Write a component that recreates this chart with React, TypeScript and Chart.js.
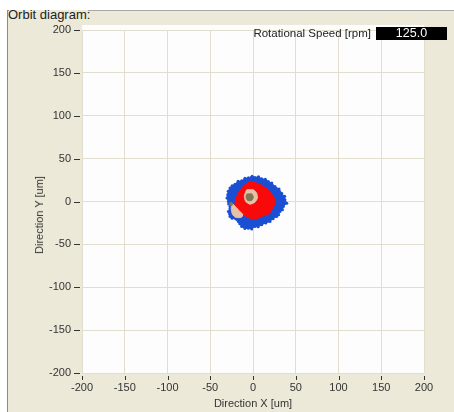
import React, { useEffect, useRef } from "react";
import { Chart, registerables } from "chart.js";

Chart.register(...registerables);

// Axis ticks (um)
const xTickValues = [-200, -150, -100, -50, 0, 50, 100, 150, 200];
const yTickValues = [-200, -150, -100, -50, 0, 50, 100, 150, 200];

const blueOrbit: [number, number][] = [
  [-5.5, 27.5], [-1.0, 29.5], [2.3, 28], [6.5, 29], [10.1, 26.5], [14.5, 26], [17.9, 23.3],
  [22.0, 21.5], [25.7, 17.5], [30.5, 14.5], [33.5, 9.7], [37.0, 6.0], [37.4, 1.9], [39.5, -2.0],
  [35.5, -5.8], [34.5, -9.5], [31.6, -11.7], [30.0, -15.5], [27.7, -17.5], [23.5, -20.0],
  [19.9, -23.3], [15.0, -25.0], [10.1, -27.2], [6.0, -29.5], [2.3, -29.2], [-1.5, -32.0],
  [-5.5, -31.1], [-9.5, -31.5], [-13.3, -29.2], [-15.5, -26.0], [-17.2, -23.3], [-19.0, -21.0],
  [-21.1, -19.5], [-24.5, -19.5], [-26.9, -17.5], [-27.5, -14.5], [-28.8, -11.7], [-27.0, -8.5],
  [-26.9, -5.8], [-28.5, -3.0], [-28.8, 0], [-30.5, 4.0], [-29.6, 7.8], [-29.0, 12.0],
  [-26.9, 15.6], [-24.5, 18.5], [-21.1, 20.2], [-17.5, 23.5], [-13.3, 24.1], [-9.5, 27.0],
];
const redOrbit: [number, number][] = [
  [-9.0, 20.0], [-3.0, 23.5], [3.0, 22.0], [9.0, 19.5], [16.5, 14.5], [22.0, 8.5],
  [26.0, 2.5], [25.0, -3.9], [22.5, -9.0], [18.5, -14.5], [12.0, -16.5], [4.3, -20.0],
  [-3.5, -19.5], [-10.5, -16.0], [-17.5, -12.0], [-21.0, -7.0], [-21.0, -1.5], [-19.5, 5.0],
  [-16.5, 11.0], [-13.0, 16.0],
];
const tanCenter: [number, number][] = [
  [-7.4, 13.6], [0.4, 13.6], [4.3, 9.7], [5.1, 3.9], [2.3, -0.8], [-3.5, -3.1],
  [-8.6, 0], [-10.1, 7.0],
];
const tanPatch: [number, number][] = [
  [-24, -2.5], [-20.5, -6.0], [-15.5, -11.5], [-12.0, -15.0], [-13.5, -18.5],
  [-20.5, -18.5], [-24.0, -15.0], [-25.5, -8.0],
];
const oliveCenter: [number, number][] = [
  [-7.4, 8.6], [-1.6, 8.9], [0.4, 5.1], [-1.6, 1.2], [-6.2, 1.2], [-8.2, 4.7],
];
const oliveSpot: [number, number][] = [
  [-27.0, -1.5], [-24.5, -1.5], [-24.0, -4.0], [-26.0, -5.0], [-27.5, -3.5],
];

const rotationalSpeed = "125.0";

const FONT = "'Liberation Sans', Arial, sans-serif";

function closed(pts: [number, number][]) {
  const d = pts.map(([x, y]) => ({ x, y }));
  d.push({ x: pts[0][0], y: pts[0][1] });
  return d;
}

function blob(label: string, pts: [number, number][], color: string, order: number, pr: number, bw: number) {
  return {
    label,
    data: closed(pts),
    showLine: true,
    fill: "shape" as const,
    backgroundColor: color,
    borderColor: color,
    borderWidth: bw,
    pointRadius: pr,
    pointBorderWidth: 0,
    pointBackgroundColor: color,
    tension: 0.2,
    order,
  };
}

const decorPlugin = {
  id: "decor",
  beforeDraw(chart: any) {
    const { ctx, chartArea } = chart;
    ctx.save();
    ctx.fillStyle = "#fdfdfd";
    ctx.fillRect(chartArea.left, chartArea.top - 5, chartArea.right - chartArea.left, chartArea.bottom - chartArea.top + 5);
    ctx.restore();
  },
  afterDraw(chart: any) {
    const { ctx, chartArea, scales } = chart;
    ctx.save();
    ctx.strokeStyle = "#333";
    ctx.lineWidth = 1;
    ctx.beginPath();
    for (const v of yTickValues) {
      const y = Math.round(scales.y.getPixelForValue(v)) + 0.5;
      ctx.moveTo(chartArea.left - 8, y);
      ctx.lineTo(chartArea.left - 2, y);
    }
    for (const v of xTickValues) {
      const x = Math.round(scales.x.getPixelForValue(v)) + 0.5;
      ctx.moveTo(x, chartArea.bottom + 3);
      ctx.lineTo(x, chartArea.bottom + 7);
    }
    ctx.stroke();
    ctx.restore();
  },
};

export default function App() {
  const canvasRef = useRef<HTMLCanvasElement | null>(null);

  useEffect(() => {
    if (!canvasRef.current) return;
    const chart = new Chart(canvasRef.current, {
      type: "scatter",
      data: {
        datasets: [
          blob("olive spot", oliveSpot, "#7d7a52", 0, 0, 1),
          blob("olive", oliveCenter, "#7d7a52", 1, 0, 1),
          blob("tan", tanCenter, "#e8c2a8", 2, 0, 1),
          blob("tan patch", tanPatch, "#e8c2a8", 3, 0, 1),
          blob("red", redOrbit, "#f80a0a", 4, 0, 1),
          blob("blue", blueOrbit, "#1a4fd4", 5, 1.5, 1),
        ] as any,
      },
      options: {
        responsive: false,
        animation: false,
        devicePixelRatio: 1,
        layout: { padding: { left: 0, right: 30, top: 30, bottom: 0 } },
        plugins: { legend: { display: false }, tooltip: { enabled: false } },
        scales: {
          x: {
            type: "linear",
            min: -200,
            max: 200,
            afterBuildTicks: (s: any) => { s.ticks = xTickValues.map((v) => ({ value: v })); },
            afterFit: (s: any) => { s.height = 39; },
            grid: { color: "#e2decf", drawTicks: false },
            border: { display: false },
            ticks: { padding: 8, color: "#333", font: { family: FONT, size: 11 }, maxRotation: 0 },
            title: { display: true, text: "Direction X [um]", color: "#333", font: { family: FONT, size: 11 }, padding: { top: 0, bottom: 1.5 } },
          },
          y: {
            type: "linear",
            min: -200,
            max: 200,
            afterBuildTicks: (s: any) => { s.ticks = yTickValues.map((v) => ({ value: v })); },
            afterFit: (s: any) => { s.width = 82; },
            grid: { color: "#e2decf", drawTicks: false },
            border: { display: false },
            ticks: { padding: 11, color: "#333", font: { family: FONT, size: 11 } },
          },
        },
      },
      plugins: [decorPlugin],
    });
    return () => chart.destroy();
  }, []);

  return (
    <div style={{ position: "fixed", left: 0, top: 0, width: 454, height: 412, overflow: "hidden", background: "#ffffff", fontFamily: FONT }}>
      {/* group frame */}
      <div style={{ position: "absolute", left: 7, top: 10, width: 460, height: 420, background: "#ece9d8", borderLeft: "1px solid #8c8c8c" }} />
      <div style={{ position: "absolute", left: 7, top: 10, width: 2, height: 1, background: "#8c8c8c" }} />
      <div style={{ position: "absolute", left: 88, top: 10, width: 380, height: 1, background: "#a8a8a8" }} />
      <div style={{ position: "absolute", left: 8, top: 7, fontSize: 13, lineHeight: "16px", color: "#222", whiteSpace: "nowrap" }}>Orbit diagram:</div>
      <canvas ref={canvasRef} width={454} height={412} style={{ position: "absolute", left: 0, top: 0, width: 454, height: 412 }} />
      {/* y axis title */}
      <div style={{ position: "absolute", left: 39, top: 215, transform: "translate(-50%, -50%) rotate(-90deg)", fontSize: 11, color: "#333", whiteSpace: "nowrap" }}>Direction Y [um]</div>
      {/* rotational speed indicator */}
      <div style={{ position: "absolute", right: 454 - 371, top: 26, fontSize: 11.5, lineHeight: "14px", color: "#222", whiteSpace: "nowrap" }}>Rotational Speed [rpm]</div>
      <div style={{ position: "absolute", left: 376, top: 27, width: 71, height: 13, background: "#000", color: "#fff", fontSize: 12.5, lineHeight: "13px", textAlign: "center" }}>{rotationalSpeed}</div>
    </div>
  );
}
